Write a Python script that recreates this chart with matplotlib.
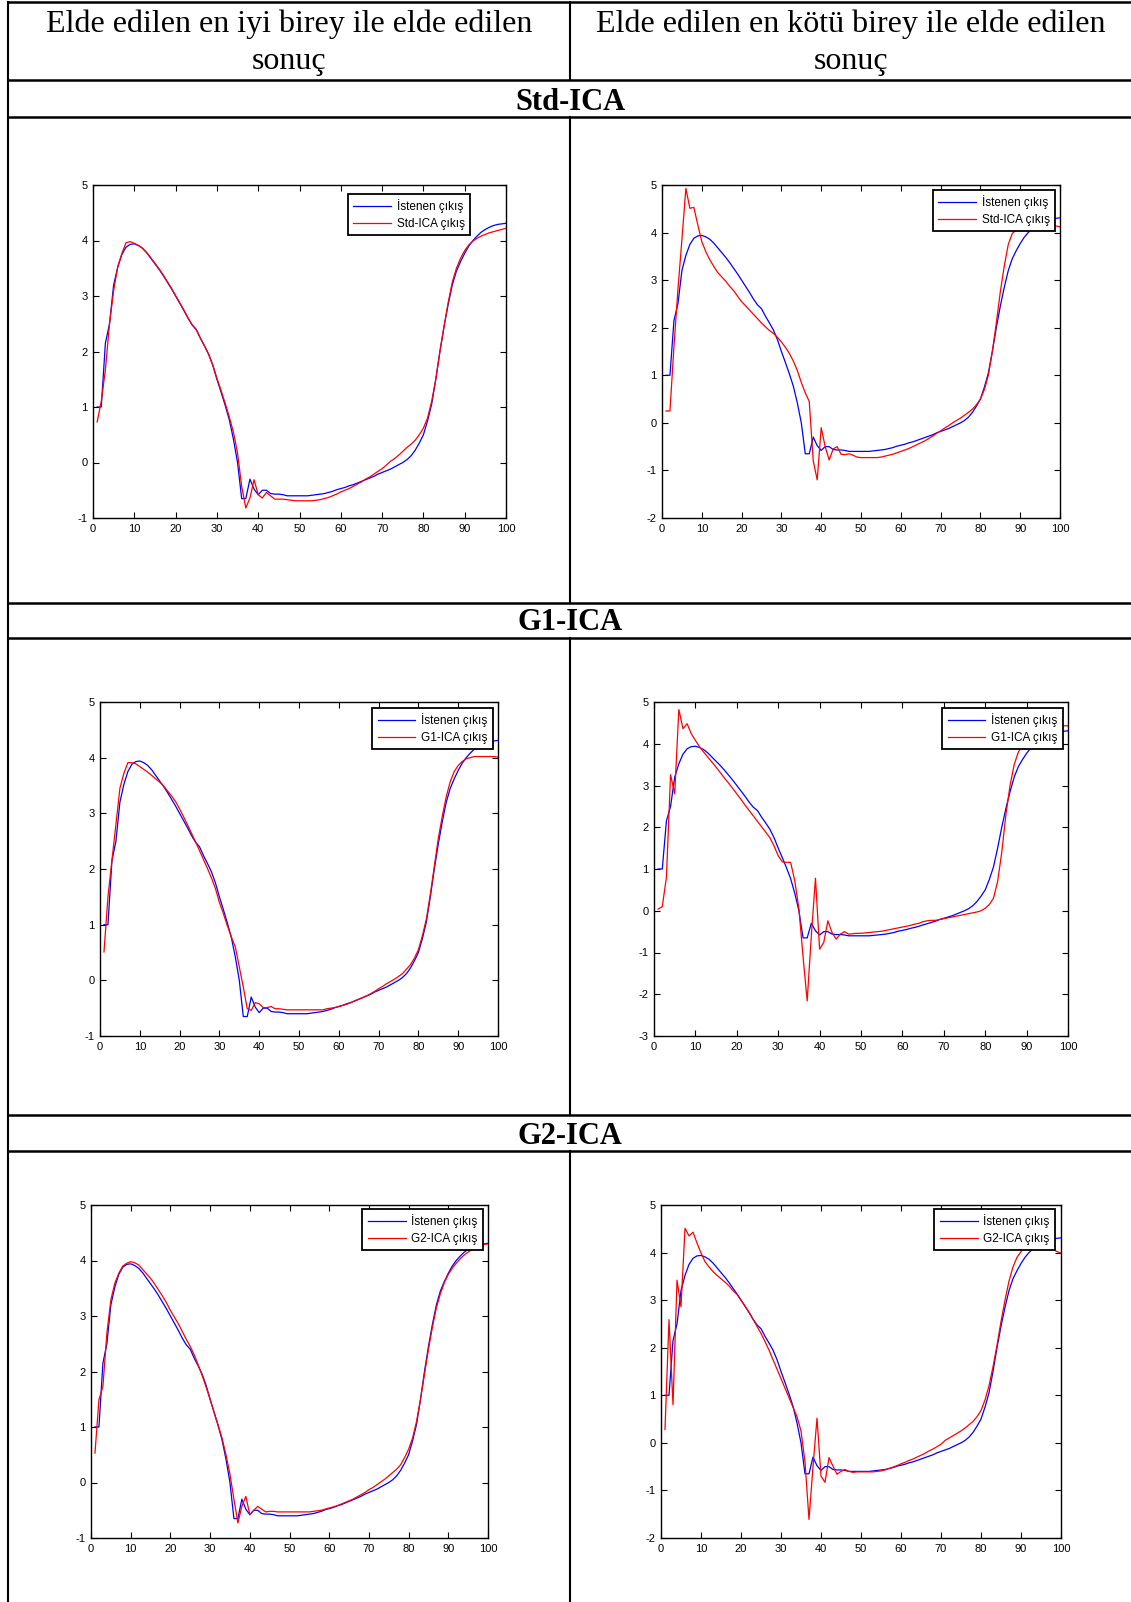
import numpy as np
import matplotlib
matplotlib.use("Agg")
import matplotlib.pyplot as plt
from matplotlib.lines import Line2D

plt.rcParams["axes.unicode_minus"] = False

W, H = 1131, 1602

# sample index on the x axis
x = np.arange(1, 101)

# desired output (blue), the same in every panel
istenen = [1.0, 1.0, 2.15, 2.5, 3.2, 3.52, 3.75, 3.88, 3.93, 3.94,
           3.91, 3.86, 3.78, 3.68, 3.58, 3.48, 3.37, 3.25, 3.13, 3.0,
           2.87, 2.74, 2.6, 2.48, 2.4, 2.24, 2.1, 1.95, 1.75, 1.5,
           1.27, 1.03, 0.77, 0.42, 0.0, -0.65, -0.65, -0.3, -0.48, -0.58,
           -0.5, -0.5, -0.56, -0.57, -0.57, -0.58, -0.6, -0.6, -0.6, -0.6,
           -0.6, -0.6, -0.59, -0.58, -0.57, -0.56, -0.54, -0.52, -0.49, -0.47,
           -0.45, -0.42, -0.4, -0.37, -0.34, -0.31, -0.28, -0.25, -0.21, -0.18,
           -0.15, -0.12, -0.08, -0.04, 0.0, 0.05, 0.12, 0.22, 0.35, 0.5,
           0.75, 1.05, 1.5, 2.0, 2.45, 2.85, 3.2, 3.45, 3.62, 3.77,
           3.9, 4.0, 4.08, 4.15, 4.2, 4.24, 4.27, 4.29, 4.3, 4.31]

std_best = [0.73, 1.1, 1.67, 2.5, 3.1, 3.53, 3.77, 3.96, 3.98, 3.95,
            3.91, 3.86, 3.78, 3.69, 3.59, 3.49, 3.38, 3.26, 3.14, 3.01,
            2.88, 2.75, 2.61, 2.48, 2.39, 2.24, 2.1, 1.95, 1.76, 1.52,
            1.3, 1.07, 0.82, 0.55, 0.17, -0.43, -0.82, -0.64, -0.31, -0.58,
            -0.64, -0.54, -0.6, -0.66, -0.66, -0.66, -0.67, -0.68, -0.69, -0.69,
            -0.69, -0.69, -0.69, -0.68, -0.67, -0.65, -0.63, -0.6, -0.57, -0.53,
            -0.5, -0.47, -0.43, -0.39, -0.35, -0.3, -0.26, -0.21, -0.16, -0.11,
            -0.05, 0.02, 0.07, 0.13, 0.2, 0.27, 0.33, 0.4, 0.5, 0.62,
            0.8, 1.1, 1.5, 2.0, 2.45, 2.88, 3.25, 3.5, 3.68, 3.82,
            3.92, 3.99, 4.04, 4.08, 4.11, 4.14, 4.16, 4.18, 4.2, 4.22]

std_worst = [0.25, 0.25, 1.6, 2.8, 3.85, 4.93, 4.51, 4.53, 4.16, 3.81,
             3.6, 3.43, 3.29, 3.16, 3.07, 2.98, 2.87, 2.78, 2.66, 2.55,
             2.46, 2.37, 2.28, 2.19, 2.1, 2.02, 1.94, 1.88, 1.8, 1.7,
             1.59, 1.46, 1.3, 1.1, 0.85, 0.63, 0.45, -0.8, -1.2, -0.1,
             -0.5, -0.78, -0.55, -0.5, -0.66, -0.67, -0.65, -0.68, -0.72, -0.73,
             -0.73, -0.73, -0.73, -0.73, -0.72, -0.7, -0.68, -0.66, -0.63, -0.6,
             -0.57, -0.54, -0.5, -0.46, -0.42, -0.38, -0.33, -0.28, -0.22, -0.17,
             -0.11, -0.06, 0.0, 0.05, 0.1, 0.16, 0.22, 0.29, 0.38, 0.5,
             0.7, 1.0, 1.5, 2.1, 2.75, 3.3, 3.75, 3.98, 4.05, 4.08,
             4.08, 4.09, 4.1, 4.12, 4.14, 4.15, 4.16, 4.16, 4.14, 4.12]

g1_best = [0.51, 1.5, 2.16, 2.8, 3.45, 3.72, 3.91, 3.91, 3.89, 3.84,
           3.79, 3.74, 3.68, 3.62, 3.56, 3.49, 3.4, 3.31, 3.21, 3.08,
           2.94, 2.79, 2.64, 2.49, 2.33, 2.17, 2.01, 1.84, 1.65, 1.4,
           1.2, 0.98, 0.78, 0.6, 0.24, -0.12, -0.51, -0.54, -0.4, -0.42,
           -0.49, -0.49, -0.47, -0.51, -0.51, -0.52, -0.53, -0.53, -0.53, -0.53,
           -0.53, -0.53, -0.53, -0.53, -0.53, -0.53, -0.51, -0.5, -0.49, -0.47,
           -0.45, -0.43, -0.4, -0.37, -0.34, -0.31, -0.28, -0.24, -0.2, -0.15,
           -0.11, -0.06, -0.02, 0.02, 0.07, 0.12, 0.2, 0.28, 0.4, 0.55,
           0.8, 1.1, 1.55, 2.05, 2.55, 2.95, 3.3, 3.57, 3.75, 3.86,
           3.93, 3.98, 4.0, 4.02, 4.02, 4.02, 4.02, 4.02, 4.02, 4.01]

g1_worst = [0.04, 0.1, 0.8, 3.26, 2.8, 4.82, 4.36, 4.48, 4.24, 4.08,
            3.93, 3.8, 3.68, 3.56, 3.44, 3.31, 3.18, 3.06, 2.93, 2.8,
            2.67, 2.53, 2.4, 2.27, 2.14, 2.01, 1.88, 1.75, 1.55, 1.32,
            1.17, 1.16, 1.16, 0.72, 0.05, -1.1, -2.16, -0.6, 0.78, -0.92,
            -0.76, -0.24, -0.52, -0.68, -0.56, -0.5, -0.56, -0.55, -0.54, -0.54,
            -0.53, -0.52, -0.51, -0.5, -0.49, -0.47, -0.45, -0.43, -0.41, -0.39,
            -0.37, -0.35, -0.32, -0.3, -0.26, -0.24, -0.23, -0.23, -0.21, -0.19,
            -0.17, -0.15, -0.13, -0.11, -0.09, -0.07, -0.05, -0.03, 0.0, 0.06,
            0.15, 0.3, 0.7, 1.4, 2.3, 3.0, 3.5, 3.8, 3.95, 4.08,
            4.18, 4.27, 4.33, 4.38, 4.41, 4.43, 4.43, 4.43, 4.43, 4.43]

g2_best = [0.53, 1.49, 1.73, 2.69, 3.29, 3.59, 3.77, 3.9, 3.95, 3.98,
           3.96, 3.92, 3.84, 3.76, 3.68, 3.58, 3.47, 3.36, 3.24, 3.1,
           2.98, 2.86, 2.72, 2.58, 2.45, 2.3, 2.12, 1.93, 1.72, 1.5,
           1.26, 1.04, 0.8, 0.5, 0.15, -0.3, -0.73, -0.43, -0.25, -0.58,
           -0.5, -0.43, -0.48, -0.53, -0.52, -0.52, -0.53, -0.53, -0.53, -0.53,
           -0.53, -0.53, -0.53, -0.53, -0.53, -0.52, -0.51, -0.5, -0.48, -0.46,
           -0.44, -0.42, -0.39, -0.36, -0.33, -0.3, -0.26, -0.22, -0.18, -0.13,
           -0.09, -0.04, 0.01, 0.06, 0.12, 0.18, 0.24, 0.32, 0.45, 0.6,
           0.8, 1.1, 1.5, 1.95, 2.4, 2.8, 3.15, 3.4, 3.6, 3.75,
           3.86, 3.95, 4.03, 4.1, 4.15, 4.2, 4.24, 4.27, 4.29, 4.3]

g2_worst = [0.28, 2.59, 0.8, 3.42, 2.86, 4.51, 4.35, 4.43, 4.2, 3.99,
            3.81, 3.7, 3.6, 3.52, 3.45, 3.38, 3.3, 3.2, 3.12, 3.0,
            2.88, 2.75, 2.6, 2.45, 2.3, 2.13, 1.95, 1.75, 1.55, 1.35,
            1.15, 0.95, 0.75, 0.55, 0.25, -0.4, -1.61, -0.5, 0.52, -0.7,
            -0.83, -0.31, -0.49, -0.66, -0.6, -0.56, -0.6, -0.62, -0.61, -0.61,
            -0.61, -0.61, -0.61, -0.6, -0.59, -0.57, -0.54, -0.51, -0.48, -0.44,
            -0.41, -0.37, -0.34, -0.3, -0.26, -0.22, -0.17, -0.13, -0.08, -0.03,
            0.05, 0.1, 0.15, 0.2, 0.25, 0.31, 0.38, 0.45, 0.55, 0.68,
            0.9, 1.2, 1.6, 2.05, 2.55, 3.0, 3.4, 3.7, 3.9, 4.02,
            4.1, 4.13, 4.14, 4.14, 4.13, 4.12, 4.1, 4.07, 4.02, 3.99]

section_names = ["Std-ICA", "G1-ICA", "G2-ICA"]
col_titles = [["Elde edilen en iyi birey ile elde edilen", "sonuç"],
              ["Elde edilen en kötü birey ile elde edilen", "sonuç"]]
red_series = [std_best, std_worst, g1_best, g1_worst, g2_best, g2_worst]
y_bottoms = [-1, -2, -1, -3, -1, -2]

# panel boxes in pixels: left, right, top, bottom
panel_px = [(93, 506, 185, 518), (662, 1060, 185, 518),
            (100, 498, 702, 1036), (654, 1068, 702, 1036),
            (91, 488, 1205, 1538), (661, 1061, 1205, 1538)]
# legend upper right corner in pixels
legend_px = [(470, 194), (1055, 190), (493, 708), (1063, 708), (483, 1209), (1055, 1209)]

fig = plt.figure(figsize=(W / 100, H / 100), dpi=100)
fig.patch.set_facecolor("white")


def fx(px):
    return px / W


def fy(py):
    return 1 - py / H


def hline(py, x0, x1, lw=1.8):
    fig.add_artist(Line2D([fx(x0), fx(x1)], [fy(py), fy(py)], color="black", lw=lw,
                          transform=fig.transFigure))


def vline(px, y0, y1, lw=1.5):
    fig.add_artist(Line2D([fx(px), fx(px)], [fy(y0), fy(y1)], color="black", lw=lw,
                          transform=fig.transFigure))


# table grid
hline(2, 8, 1131)
for py in [80, 117, 603, 638, 1115, 1151]:
    hline(py, 8, 1131)
vline(8, 2, 1602)
for y0, y1 in [(2, 80), (117, 603), (638, 1115), (1151, 1602)]:
    vline(570, y0, y1)

serif = ["Liberation Serif", "DejaVu Serif"]
for cx, lines in zip([289, 851], col_titles):
    for cy, t in zip([24, 61], lines):
        fig.text(fx(cx), fy(cy), t, ha="center", va="center", fontsize=23,
                 family=serif)
for cy, name in zip([102, 623, 1136], section_names):
    fig.text(fx(570), fy(cy), name, ha="center", va="center", fontsize=22,
             family=serif, weight="bold")

for i, red in enumerate(red_series):
    l, r, t, b = panel_px[i]
    ax = fig.add_axes([fx(l), fy(b), (r - l) / W, (b - t) / H])
    ax.plot(x, istenen, color=(0, 0, 1), lw=0.9, label="İstenen çıkış")
    ax.plot(x, red, color=(1, 0, 0), lw=0.9, label=section_names[i // 2] + " çıkış")
    ax.set_xlim(0, 100)
    ax.set_ylim(y_bottoms[i], 5)
    ax.set_xticks(range(0, 101, 10))
    ax.set_yticks(range(y_bottoms[i], 6))
    ax.tick_params(direction="in", top=True, right=True, length=4, width=0.8,
                   labelsize=8, pad=4)
    for lab in ax.get_xticklabels() + ax.get_yticklabels():
        lab.set_family(["Liberation Sans", "DejaVu Sans"])
    for sp in ax.spines.values():
        sp.set_linewidth(1.0)
    lx, ly = legend_px[i]
    leg = ax.legend(loc="upper right", bbox_to_anchor=(fx(lx), fy(ly)),
                    bbox_transform=fig.transFigure, borderaxespad=0,
                    fancybox=False, framealpha=1, edgecolor="black",
                    prop={"family": ["Liberation Sans", "DejaVu Sans"], "size": 8.5},
                    handlelength=3.2, handletextpad=0.5, borderpad=0.45,
                    labelspacing=0.4)
    leg.get_frame().set_linewidth(1.3)

fig.savefig("out.png", dpi=100, facecolor="white")
